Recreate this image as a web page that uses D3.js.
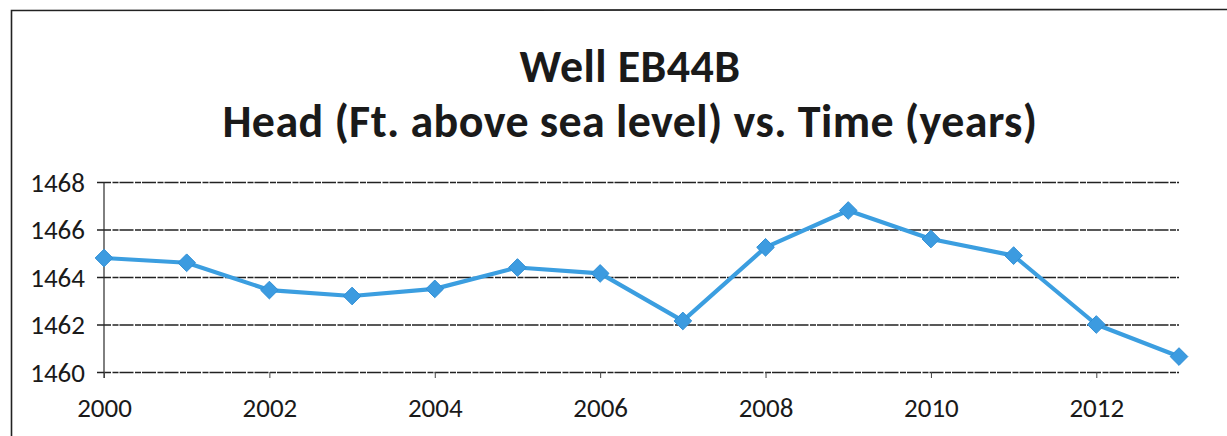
<!DOCTYPE html>
<html>
<head>
<meta charset="utf-8">
<script src="https://cdn.jsdelivr.net/npm/d3@7"></script>
<style>
  html, body { margin: 0; padding: 0; background: #fff; }
  svg { display: block; }
</style>
</head>
<body>
<svg id="chart" width="1227" height="436"></svg>
<script>
// Well EB44B water head record
const years = [2000, 2001, 2002, 2003, 2004, 2005, 2006, 2007, 2008, 2009, 2010, 2011, 2012, 2013];
const head = [1464.8, 1464.6, 1463.45, 1463.2, 1463.5, 1464.4, 1464.15, 1462.15, 1465.25, 1466.8, 1465.6, 1464.9, 1462.0, 1460.65];
const yTicks = [1460, 1462, 1464, 1466, 1468];
const xTicks = [2000, 2002, 2004, 2006, 2008, 2010, 2012];
const titleLines = ["Well EB44B", "Head (Ft. above sea level) vs. Time (years)"];

const svg = d3.select("#chart");
const font = "Carlito, Calibri, Lato, 'Open Sans', sans-serif";

// outer frame (top and left edges)
svg.append("path")
  .attr("d", "M11.5,436 L11.5,10.5 L1227,9.5")
  .attr("fill", "none")
  .attr("stroke", "#222")
  .attr("stroke-width", 1.6);

const x = d3.scaleLinear().domain([2000, 2013]).range([104, 1179]);
const y = d3.scaleLinear().domain([1460, 1468]).range([372, 182]);

// title
svg.append("g")
  .selectAll("text")
  .data(titleLines)
  .join("text")
  .attr("x", 630)
  .attr("y", (d, i) => 82 + i * 55)
  .attr("text-anchor", "middle")
  .attr("font-family", font)
  .attr("font-weight", "bold")
  .attr("font-size", 46)
  .attr("letter-spacing", 0.4)
  .attr("fill", "#1a1a1a")
  .text(d => d);

// horizontal gridlines with outward ticks
const yAxis = d3.axisLeft(y)
  .tickValues(yTicks)
  .tickSize(-(x.range()[1] - x.range()[0]) - 7)
  .tickPadding(12)
  .tickFormat(d3.format("d"));
const gy = svg.append("g")
  .attr("transform", `translate(${x.range()[0] - 7},0)`)
  .call(yAxis)
  .attr("font-family", font)
  .attr("font-size", 27);
gy.select(".domain").remove();
gy.selectAll(".tick line")
  .attr("stroke", "#222")
  .attr("stroke-width", 1.3)
  .attr("stroke-dasharray", "14,1.5,6,1");
gy.selectAll(".tick text")
  .attr("fill", "#1a1a1a")
  .attr("dy", "0.35em")
  .attr("x", -12);

// vertical axis line
svg.append("line")
  .attr("x1", x(2000)).attr("x2", x(2000))
  .attr("y1", y(1468)).attr("y2", y(1460) + 6)
  .attr("stroke", "#2a2a2a")
  .attr("stroke-width", 1.2);

// x axis ticks and labels
const xAxis = d3.axisBottom(x)
  .tickValues(xTicks)
  .tickSize(6)
  .tickPadding(20)
  .tickFormat(d3.format("d"));
const gx = svg.append("g")
  .attr("transform", `translate(0,${y(1460)})`)
  .call(xAxis)
  .attr("font-family", font)
  .attr("font-size", 27);
gx.select(".domain").remove();
gx.selectAll(".tick line").attr("stroke", "#444").attr("stroke-width", 1);
gx.selectAll(".tick text").attr("fill", "#1a1a1a");

// data line
const line = d3.line().x((d, i) => x(years[i])).y(d => y(d));
svg.append("path")
  .datum(head)
  .attr("d", line)
  .attr("fill", "none")
  .attr("stroke", "#3b9ee0")
  .attr("stroke-width", 4.2)
  .attr("stroke-linejoin", "round");

// diamond markers
svg.append("g")
  .selectAll("path")
  .data(head)
  .join("path")
  .attr("d", d3.symbol().type(d3.symbolDiamond2).size(200))
  .attr("transform", (d, i) => `translate(${x(years[i])},${y(d)})`)
  .attr("fill", "#3c9be0")
  .attr("stroke", "#2f8fd6")
  .attr("stroke-width", 1);
</script>
</body>
</html>
